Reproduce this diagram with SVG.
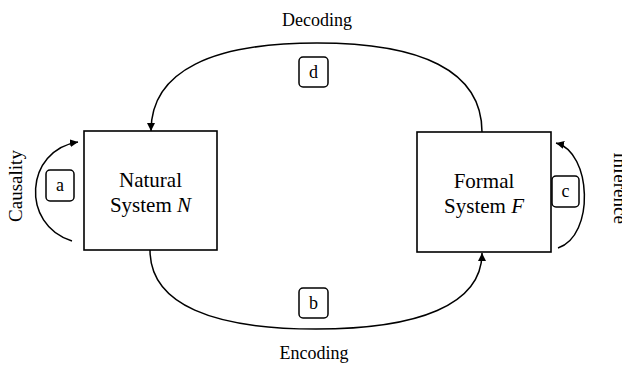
<svg xmlns="http://www.w3.org/2000/svg" width="622" height="367" viewBox="0 0 622 367">
<style>
.box{fill:#fff;stroke:#000;stroke-width:1.6}
.tag{fill:#fff;stroke:#000;stroke-width:1.5}
.edge{fill:none;stroke:#000;stroke-width:1.5}
text{font-family:"Liberation Serif","Times New Roman",serif;fill:#000}
.main{font-size:21px;text-anchor:middle}
.lbl{font-size:18px;text-anchor:middle}
.side{font-size:19px;text-anchor:middle}
</style>
<defs>
<marker id="ah" markerUnits="userSpaceOnUse" markerWidth="10" markerHeight="8" refX="8" refY="4" orient="auto">
<path d="M0,0 L8,4 L0,8 Z" fill="#000"/>
</marker>
</defs>
<g id="connectors">
<path class="edge" d="M482,132 C482,70 420,43 317,43 C214,43 151,70 151,131" marker-end="url(#ah)"/>
<path class="edge" d="M150,250 C150,305 214,329 316,329 C418,329 482,305 482,253" marker-end="url(#ah)"/>
<path class="edge" d="M72,241 C20,225 25,150 78,142" marker-end="url(#ah)"/>
<path class="edge" d="M558,248 C595,236 592,152 556,143" marker-end="url(#ah)"/>
</g>
<g id="natural">
<rect class="box" x="84" y="131" width="133" height="119"/>
<text class="main" x="150.5" y="187">Natural</text>
<text class="main" x="150.5" y="212">System <tspan font-style="italic">N</tspan></text>
</g>
<g id="formal">
<rect class="box" x="417" y="132" width="134" height="120"/>
<text class="main" x="484" y="188">Formal</text>
<text class="main" x="484" y="213">System <tspan font-style="italic">F</tspan></text>
</g>
<g id="tag-a">
<rect class="tag" x="46" y="170" width="28" height="31" rx="4"/>
<text class="lbl" x="60" y="191">a</text>
</g>
<g id="tag-b">
<rect class="tag" x="299" y="288" width="29" height="30" rx="4"/>
<text class="lbl" x="313.5" y="309">b</text>
</g>
<g id="tag-c">
<rect class="tag" x="552" y="176" width="27" height="31" rx="4"/>
<text class="lbl" x="565.5" y="197">c</text>
</g>
<g id="tag-d">
<rect class="tag" x="299" y="57" width="29" height="30" rx="4"/>
<text class="lbl" x="313.5" y="78">d</text>
</g>
<g id="labels">
<text class="lbl" x="317" y="26">Decoding</text>
<text class="lbl" x="314" y="359">Encoding</text>
<text class="side" transform="translate(22,186) rotate(-90)">Causality</text>
<text class="side" transform="translate(614,188) rotate(90)">Inference</text>
</g>
</svg>
